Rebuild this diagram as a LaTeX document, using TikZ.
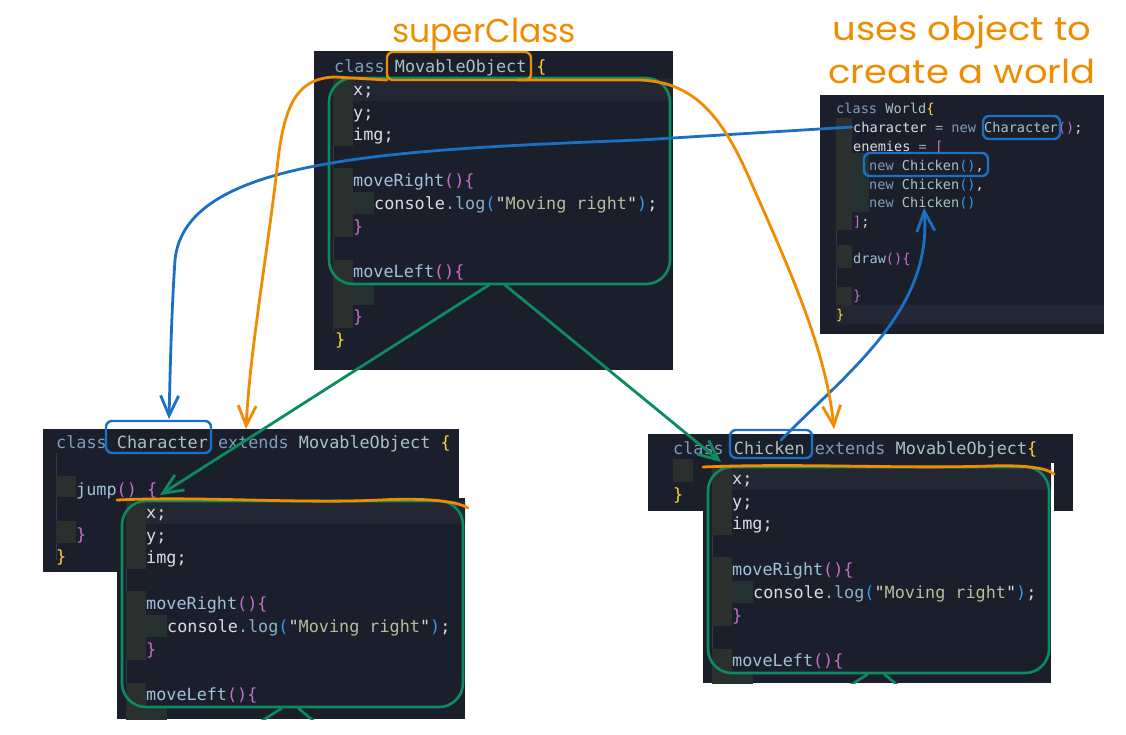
\documentclass[tikz,border=0pt]{standalone}
\usepackage{fontspec}
\setmonofont{DejaVu Sans Mono}
\newfontfamily\handfont{Poppins}
\usetikzlibrary{arrows.meta}
\frenchspacing
\definecolor{bgc}{HTML}{1B1F2B}
\definecolor{hl}{HTML}{222733}
\definecolor{gut}{HTML}{2B2F2D}
\definecolor{gut2}{HTML}{253030}
\definecolor{guide}{HTML}{353A42}
\definecolor{kw}{HTML}{7F9DBA}
\definecolor{cls}{HTML}{A6C4C4}
\definecolor{txt}{HTML}{D9DCE0}
\definecolor{fn}{HTML}{9EC2D6}
\definecolor{lg}{HTML}{86B3C6}
\definecolor{str}{HTML}{B5BE98}
\definecolor{pk}{HTML}{C86EC8}
\definecolor{yl}{HTML}{FFD43B}
\definecolor{bp}{HTML}{2E9BF0}
\definecolor{op}{HTML}{A0A8B0}
\definecolor{ora}{HTML}{F08C00}
\definecolor{grn}{HTML}{0C8A60}
\definecolor{blu}{HTML}{1C70C4}
\newcommand\cK[1]{\textcolor{kw}{#1}}
\newcommand\cC[1]{\textcolor{cls}{#1}}
\newcommand\cT[1]{\textcolor{txt}{#1}}
\newcommand\cF[1]{\textcolor{fn}{#1}}
\newcommand\cL[1]{\textcolor{lg}{#1}}
\newcommand\cS[1]{\textcolor{str}{#1}}
\newcommand\cP[1]{\textcolor{pk}{#1}}
\newcommand\cY[1]{\textcolor{yl}{#1}}
\newcommand\cB[1]{\textcolor{bp}{#1}}
\newcommand\cO[1]{\textcolor{op}{#1}}
\newcommand\mobody[1]{%
  \fill[hl] (333,78) rectangle (673,101);
  \draw[guide,line width=1pt] (333.5,79) -- (333.5,330);
  \fill[gut] (333,79) rectangle (353,146);
  \fill[gut] (333,168) rectangle (353,237);
  \fill[gut2] (353,192) rectangle (374,214);
  \fill[gut] (333,260) rectangle (353,328);
  \fill[gut2] (353,283) rectangle (374,305);
  \node[code] (#1x) at (353,95) {\cT{x;}};
  \node[code] (#1y) at (353,118) {\cT{y;}};
  \node[code] (#1img) at (353,140) {\cT{img;}};
  \node[code] (#1mr) at (353,186) {\cF{moveRight}\cP{()\{}};
  \node[code] (#1log) at (374,209) {\cT{console}\cL{.log}\cB{(}\cT{"}\cS{Moving right}\cT{"}\cB{)}\cT{;}};
  \node[code] (#1mrc) at (353,232) {\cP{\}}};
  \node[code] (#1ml) at (353,277) {\cF{moveLeft}\cP{()\{}};
  \draw[grn,line width=2.6pt,rounded corners=24pt] (329,78) rectangle (670,284);
}
\begin{document}
\begin{tikzpicture}[x=1pt,y=-1pt,
  code/.style={inner sep=0pt,anchor=base west,font=\ttfamily\fontsize{16.8}{20}\selectfont},
  wcode/.style={code,font=\ttfamily\fontsize{13.6}{16}\selectfont},
  hand/.style={inner sep=0pt,anchor=base,text=ora,font=\handfont\fontsize{33}{38}\selectfont},
  ann/.style={line width=2.8pt,line cap=round,line join=round},
  barb/.style={-{Straight Barb[length=20pt,width=18pt]}},
  hbox/.style={line width=2.4pt,rounded corners=6pt}]
\useasboundingbox (0,0) rectangle (1126,734);
\fill[white] (0,0) rectangle (1126,734);

% ---------- MovableObject panel
\fill[bgc] (314,51) rectangle (673,370);
\mobody{m}
\node[code] (mhead) at (334,72) {\cK{class} \cC{MovableObject} \cY{\{}};
\node[code] (mmlc) at (353,322) {\cP{\}}};
\node[code] (mend) at (335,345) {\cY{\}}};

% ---------- World panel
\fill[bgc] (820,95) rectangle (1104,334);
\fill[hl] (836,305) rectangle (1104,324);
\draw[guide,line width=1pt] (836.5,118) -- (836.5,305);
\fill[gut] (836,118) rectangle (852,230);
\fill[gut2] (852,153) rectangle (869,212);
\fill[gut] (836,245) rectangle (852,268);
\fill[gut] (836,287) rectangle (852,305);
\node[wcode] (w1) at (836,113) {\cK{class} \cC{World}\cY{\{}};
\node[wcode] (w2) at (853,132) {\cT{character} \cO{=} \cK{new} \cC{Character}\cP{()}\cT{;}};
\node[wcode] (w3) at (853,151) {\cT{enemies} \cO{=} \cP{[}};
\node[wcode] (w4) at (869,170) {\cK{new} \cC{Chicken}\cB{()}\cT{,}};
\node[wcode] (w5) at (869,189) {\cK{new} \cC{Chicken}\cB{()}\cT{,}};
\node[wcode] (w6) at (869,207) {\cK{new} \cC{Chicken}\cB{()}};
\node[wcode] (w7) at (853,226) {\cP{]}\cT{;}};
\node[wcode] (w8) at (853,263) {\cF{draw}\cP{()\{}};
\node[wcode] (w9) at (853,300) {\cP{\}}};
\node[wcode] (w10) at (836,319) {\cY{\}}};

% ---------- Character panel
\fill[bgc] (43,429) rectangle (459,572);
\draw[guide,line width=1pt] (56.5,453) -- (56.5,560);
\fill[gut] (56,476) rectangle (76,497);
\fill[gut] (56,521) rectangle (76,543);
\node[code] (chhead) at (56,448) {\cK{class} \cC{Character} \cK{extends} \cC{MovableObject} \cY{\{}};
\node[code] (chjump) at (76,495) {\cF{jump}\cP{()} \cP{\{}};
\node[code] (chjc) at (76,540) {\cP{\}}};
\node[code] (chend) at (56,562) {\cY{\}}};
% overlay copy
\fill[bgc] (117,498) rectangle (465,719);
\begin{scope}
  \clip (117,498) rectangle (465,719);
  \begin{scope}[shift={(-207,423)}]
    \mobody{c}
    \draw[grn,line width=2.6pt] (489,285) -- (449,310.5);
    \draw[grn,line width=2.6pt] (505,285) -- (540,314);
  \end{scope}
\end{scope}

% ---------- Chicken panel
\fill[bgc] (648,434) rectangle (1073,511);
\fill[gut] (673,459) rectangle (693,482);
\node[code] (kchead) at (673,454) {\cK{class} \cC{Chicken} \cK{extends} \cC{MovableObject}\cY{\{}};
\node[code] (kchend) at (673,500) {\cY{\}}};
% overlay copy
\fill[bgc] (703,463) rectangle (1051,683);
\fill[white] (1051,463) rectangle (1054,511);
\begin{scope}
  \clip (703,463) rectangle (1051,683);
  \begin{scope}[shift={(379,389)}]
    \mobody{k}
    \draw[grn,line width=2.6pt] (489,285) -- (449,310.5);
    \draw[grn,line width=2.6pt] (505,285) -- (540,314);
  \end{scope}
\end{scope}

% ---------- anchor coordinates
\coordinate (gL) at (489,285);
\coordinate (gR) at (505,285);
\coordinate (gLt) at (160,495);
\coordinate (gRt) at (721,462);
\coordinate (oL) at (387,80);
\coordinate (oR) at (517,80);
\coordinate (oLt) at (246,429);
\coordinate (oRt) at (834,429);
\coordinate (bS) at (852,127);
\coordinate (bSt) at (169,419);
\coordinate (bC) at (781,440);
\coordinate (bCt) at (924,208);

% ---------- green arrows
\draw[grn,ann,barb] (gL) -- (gLt);
\draw[grn,ann,barb] (gR) -- (gRt);

% ---------- blue annotations
\draw[blu,hbox] (983,116) rectangle (1060,139);
\draw[blu,hbox] (864,153) rectangle (988,176);
\draw[blu,hbox] (730,430) rectangle (812,458);
\draw[blu,hbox] (106,421) rectangle (211,453);
\draw[blu,ann,barb] (bS) -- (640,140) .. controls (380,150) and (185,160) .. (175,260)
   .. controls (171,320) and (170,380) .. (bSt);
\draw[blu,ann,barb] (bC) .. controls (850,370) and (932,310) .. (bCt);

% ---------- orange annotations
\draw[ora,hbox] (387,52) rectangle (531,80);
\draw[ora,ann,barb] (oL) -- (335,77) .. controls (300,78) and (285,100) .. (278,160)
   .. controls (268,250) and (250,350) .. (oLt);
\draw[ora,ann,barb] (oR) -- (640,80) .. controls (690,82) and (720,110) .. (750,180)
   .. controls (790,270) and (826,350) .. (oRt);
\draw[ora,ann] (117,500) .. controls (200,496) and (300,504) .. (380,500)
   .. controls (420,498) and (455,500) .. (468,508);
\draw[ora,ann] (703,467) .. controls (800,463) and (900,469) .. (990,466)
   .. controls (1020,465) and (1045,467) .. (1054,474);

% ---------- handwritten labels
\node[hand] (lsuper) at (484,42) {superClass};
\node[hand] (luses1) at (962,40) {\scalebox{1.12}[1]{uses object to}};
\node[hand] (luses2) at (962,83) {\scalebox{1.12}[1]{create a world}};
\end{tikzpicture}
\end{document}
